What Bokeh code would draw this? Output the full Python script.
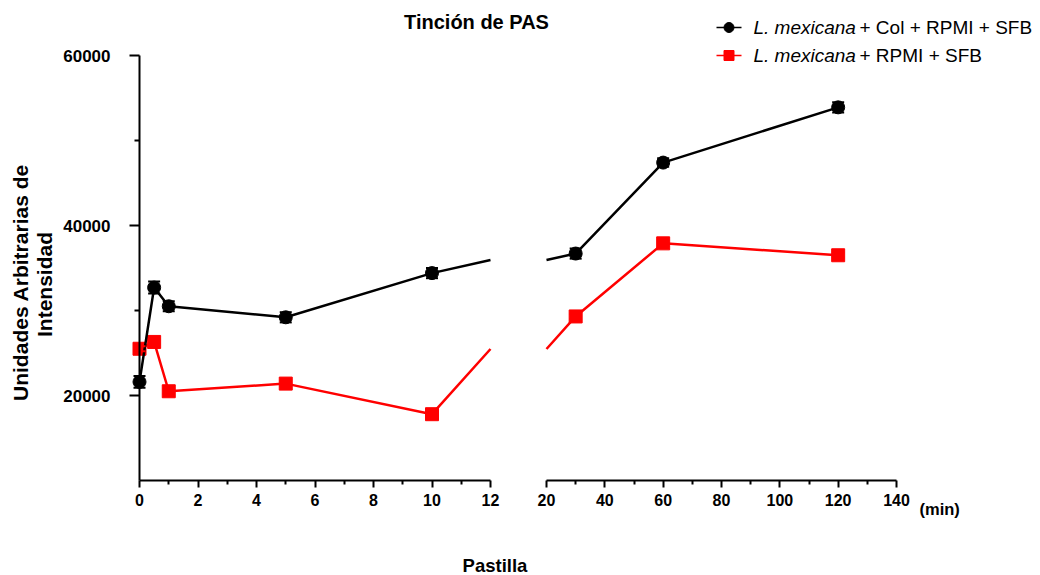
import math
from bokeh.plotting import figure
from bokeh.models import (Range1d, LinearAxis, FixedTicker, ColumnDataSource,
                          Whisker, TeeHead, Label)
from bokeh.embed import file_html
from bokeh.resources import INLINE

# ---------------- data ----------------
time_min = [0, 0.5, 1, 5, 10, 30, 60, 120]
col_rpmi_sfb = [21600, 32700, 30500, 29200, 34400, 36700, 47400, 53900]
col_rpmi_sfb_err = [700, 700, 600, 600, 600, 600, 500, 600]
rpmi_sfb = [25500, 26300, 20500, 21400, 17800, 29300, 37900, 36500]
rpmi_sfb_err = [300, 300, 300, 300, 300, 300, 300, 300]

left_ticks = [0, 2, 4, 6, 8, 10, 12]
left_minor = [1, 3, 5, 7, 9, 11]
right_ticks = [20, 40, 60, 80, 100, 120, 140]
right_minor = [30, 50, 70, 90, 110, 130]
y_ticks = [20000, 40000, 60000]
y_minor = [30000, 50000]

title_text = "Tinción de PAS"
y_title = ["Unidades Arbitrarias de", "Intensidad"]
x_title = "Pastilla"
unit_text = "(min)"
legend_species = "L. mexicana"
legend_rest = ["+ Col + RPMI + SFB", "+ RPMI + SFB"]

BREAK_LO, BREAK_HI = 12, 20
Y_LO, Y_HI = 10000, 60000

# ---------------- layout (pixels) ----------------
W, H = 1040, 575
M = 0  # page offset of the canvas
PX_L0, PX_L12 = 139 - M, 490 - M
PX_R20, PX_R140 = 546 - M, 896 - M
PY_TOP, PY_BOT = 55 - M, 480 - M

SX_L = (PX_L12 - PX_L0) / (BREAK_LO - 0)
XL_START = 0 - PX_L0 / SX_L
XL_END = XL_START + W / SX_L
SX_R = (PX_R140 - PX_R20) / (140 - BREAK_HI)
XR_START = BREAK_HI - PX_R20 / SX_R
XR_END = XR_START + W / SX_R
SY = (PY_BOT - PY_TOP) / (Y_HI - Y_LO)
Y_END = Y_HI + PY_TOP / SY
Y_START = Y_END - H / SY


def xl(page_px):
    return XL_START + (page_px - M) / SX_L


def yv(page_py):
    return Y_END - (page_py - M) / SY


FONT = "Liberation Sans"

p = figure(width=W, height=H, output_backend="svg", toolbar_location=None,
           x_axis_location=None, y_axis_location=None,
           x_range=Range1d(XL_START, XL_END), y_range=Range1d(Y_START, Y_END),
           min_border=0, outline_line_color=None)
p.min_border_left = p.min_border_right = p.min_border_top = p.min_border_bottom = 0
p.extra_x_ranges = {"right": Range1d(XR_START, XR_END)}
p.xgrid.visible = False
p.ygrid.visible = False


def style_axis(ax, tick_out, minor_out, font_size, standoff):
    ax.axis_line_width = 2
    ax.axis_line_color = "black"
    ax.major_tick_line_width = 2
    ax.minor_tick_line_width = 2
    ax.major_tick_line_color = "black"
    ax.minor_tick_line_color = "black"
    ax.major_tick_in = 0
    ax.minor_tick_in = 0
    ax.major_tick_out = tick_out
    ax.minor_tick_out = minor_out
    ax.major_label_text_font = FONT
    ax.major_label_text_font_style = "bold"
    ax.major_label_text_font_size = font_size
    ax.major_label_text_color = "black"
    ax.major_label_standoff = standoff


yaxis = LinearAxis(fixed_location=0, bounds=(Y_LO, Y_HI),
                   ticker=FixedTicker(ticks=y_ticks, minor_ticks=y_minor))
style_axis(yaxis, 10, 5, "17px", 19)
p.add_layout(yaxis, "left")

xaxis_l = LinearAxis(fixed_location=Y_LO, bounds=(0, BREAK_LO),
                     ticker=FixedTicker(ticks=left_ticks, minor_ticks=left_minor))
style_axis(xaxis_l, 7, 4, "16px", 6)
p.add_layout(xaxis_l, "below")

xaxis_r = LinearAxis(x_range_name="right", fixed_location=Y_LO, bounds=(BREAK_HI, 140),
                     ticker=FixedTicker(ticks=right_ticks, minor_ticks=right_minor))
style_axis(xaxis_r, 7, 4, "16px", 6)
p.add_layout(xaxis_r, "below")

# ---------------- series ----------------
k = SX_R / SX_L  # collapsed-break conversion


def split_series(vals):
    left_idx = [i for i, t in enumerate(time_min) if t <= BREAK_LO]
    right_idx = [i for i, t in enumerate(time_min) if t >= BREAK_HI]
    a, b = left_idx[-1], right_idx[0]
    frac = (BREAK_LO - time_min[a]) / ((BREAK_LO - time_min[a]) + (time_min[b] - BREAK_HI) * k)
    y_break = vals[a] + (vals[b] - vals[a]) * frac
    lx = [time_min[i] for i in left_idx] + [BREAK_LO]
    ly = [vals[i] for i in left_idx] + [y_break]
    rx = [BREAK_HI] + [time_min[i] for i in right_idx]
    ry = [y_break] + [vals[i] for i in right_idx]
    return left_idx, right_idx, (lx, ly), (rx, ry)


series = [
    (col_rpmi_sfb, col_rpmi_sfb_err, "black", "circle"),
    (rpmi_sfb, rpmi_sfb_err, "#FF0000", "square"),
]

for vals, errs, color, marker in series[::-1]:
    left_idx, right_idx, (lx, ly), (rx, ry) = split_series(vals)
    p.line(lx, ly, line_color=color, line_width=2.5)
    p.line(rx, ry, line_color=color, line_width=2.5, x_range_name="right")
    for idx, rname in ((left_idx, "default"), (right_idx, "right")):
        src = ColumnDataSource(dict(
            x=[time_min[i] for i in idx],
            y=[vals[i] for i in idx],
            upper=[vals[i] + errs[i] for i in idx],
            lower=[vals[i] - errs[i] for i in idx],
        ))
        w = Whisker(source=src, base="x", upper="upper", lower="lower",
                    dimension="height", line_color=color, line_width=2,
                    upper_head=TeeHead(size=12, line_color=color, line_width=2),
                    lower_head=TeeHead(size=12, line_color=color, line_width=2),
                    level="glyph")
        if rname == "right":
            w.x_range_name = "right"
        p.add_layout(w)
        kw = {} if rname == "default" else {"x_range_name": "right"}
        p.scatter("x", "y", source=src, marker=marker, size=13,
                  fill_color=color, line_color=color, **kw)

# ---------------- legend (manual, mixed italic) ----------------
rows = [(27, "black", "circle", legend_rest[0]), (55, "#FF0000", "square", legend_rest[1])]
for py, color, marker, rest in rows:
    yy = yv(py)
    p.line([xl(716), xl(741)], [yy, yy], line_color=color, line_width=1.5)
    p.scatter([xl(728.5)], [yy], marker=marker, size=10, fill_color=color, line_color=color)
    p.add_layout(Label(x=xl(753), y=yy, text=legend_species, text_font=FONT,
                       text_font_style="italic", text_font_size="19px",
                       text_baseline="middle", text_align="left", text_color="black"))
    p.add_layout(Label(x=xl(859), y=yy, text=rest, text_font=FONT,
                       text_font_size="19px", text_baseline="middle",
                       text_align="left", text_color="black"))

# ---------------- titles ----------------
p.add_layout(Label(x=xl(476), y=yv(21), text=title_text, text_font=FONT,
                   text_font_style="bold", text_font_size="20px", text_color="black",
                   text_align="center", text_baseline="middle"))
p.add_layout(Label(x=xl(19.5), y=yv(282), text=y_title[0], text_font=FONT,
                   text_font_style="bold", text_font_size="21px", text_color="black",
                   text_align="center", text_baseline="middle", angle=math.pi / 2))
p.add_layout(Label(x=xl(44), y=yv(284), text=y_title[1], text_font=FONT,
                   text_font_style="bold", text_font_size="21px", text_color="black",
                   text_align="center", text_baseline="middle", angle=math.pi / 2))
p.add_layout(Label(x=xl(494.5), y=yv(565), text=x_title, text_font=FONT,
                   text_font_style="bold", text_font_size="18.5px", text_color="black",
                   text_align="center", text_baseline="middle"))
p.add_layout(Label(x=xl(919), y=yv(508), text=unit_text, text_font=FONT,
                   text_font_style="bold", text_font_size="16.5px", text_color="black",
                   text_align="left", text_baseline="middle"))

open("out.html", "w").write(file_html(p, INLINE))
